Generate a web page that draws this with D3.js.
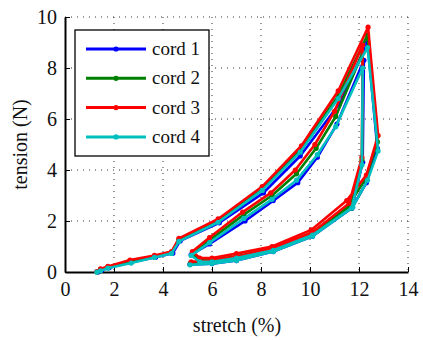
<style>
body { margin: 0; background: #fff; }
.grid line { stroke: #333; stroke-width: 1; stroke-dasharray: 1,5; }
.axis path, .axis line { stroke: #000; }
text { font-family: "Liberation Serif", "Times New Roman", "DejaVu Serif", serif !important; fill: #111; }
.axis text { font-size: 20px; }
.label { font-size: 20px; }
.legend text { font-size: 19px; }
</style>
<body>
<svg id="svg"></svg>
<script src="https://cdnjs.cloudflare.com/ajax/libs/d3/7.8.5/d3.min.js"></script>
<script>
// stretch (%) and tension (N) for each cord
// load -> unload -> reload -> unload
var cord1X = [1.35,1.5,1.8,2.7,3.7,4.4,4.7,6.3,8.1,9.6,11.2,12.35, 12.75,12.3,11.7,10.1,8.5,7.0,6.0,5.5,5.15, 5.9,7.35,8.5,9.5,10.3,11.1,12.2, 12.15,11.7,10.1,8.5,7.0,6.0,5.1]
var cord1Y = [0.0,0.08,0.17,0.38,0.58,0.74,1.22,1.93,3.1,4.55,6.6,9.0, 4.85,3.5,2.5,1.45,0.85,0.55,0.42,0.42,0.68, 1.1,2.0,2.8,3.5,4.5,5.8,8.3, 4.3,2.5,1.4,0.8,0.45,0.33,0.3]

var cord2X = [1.3,1.45,1.75,2.65,3.65,4.35,4.65,6.25,8.05,9.6,11.15,12.35, 12.75,12.3,11.6,10.1,8.5,7.0,6.0,5.5,5.2, 5.9,7.3,8.45,9.45,10.25,11.05,12.15, 12.12,11.65,10.1,8.5,7.0,6.0,5.12]
var cord2Y = [0.0,0.1,0.2,0.42,0.62,0.78,1.28,2.0,3.25,4.8,6.9,9.3, 5.1,3.7,2.65,1.55,0.92,0.62,0.48,0.48,0.72, 1.25,2.25,3.0,3.85,4.85,6.1,8.6, 4.4,2.6,1.5,0.88,0.55,0.42,0.35]

var cord3X = [1.3,1.45,1.75,2.65,3.65,4.35,4.65,6.25,8.05,9.65,11.15,12.37, 12.78,12.3,11.5,10.05,8.45,7.0,6.0,5.5,5.2, 5.9,7.25,8.4,9.4,10.2,11.0,12.15, 12.12,11.6,10.1,8.45,7.0,6.0,5.15]
var cord3Y = [0.02,0.12,0.22,0.47,0.65,0.8,1.32,2.08,3.35,4.95,7.1,9.6, 5.35,3.8,2.8,1.65,1.0,0.72,0.55,0.55,0.8, 1.35,2.35,3.1,4.0,5.0,6.3,8.9, 4.5,2.7,1.55,0.9,0.6,0.45,0.4]

var cord4X = [1.3,1.45,1.75,2.7,3.65,4.35,4.65,6.25,8.05,9.6,11.15,12.35, 12.78,12.35,11.75,10.1,8.5,7.0,6.0,5.5,5.15, 5.9,7.3,8.45,9.45,10.3,11.05,12.15, 12.12,11.7,10.1,8.5,7.0,6.0,5.1]
var cord4Y = [0.0,0.05,0.15,0.35,0.57,0.73,1.2,1.95,3.2,4.7,6.8,8.8, 4.75,3.6,2.55,1.45,0.85,0.55,0.4,0.4,0.65, 1.15,2.1,2.85,3.6,4.6,5.7,8.0, 4.2,2.5,1.4,0.8,0.45,0.33,0.28]

var names = ["cord 1","cord 2","cord 3","cord 4"]
var colors = ["#0000ff","#008000","#ff0000","#00bfbf"]
var xTicks = [0,2,4,6,8,10,12,14]
var yTicks = [0,2,4,6,8,10]

var series = [[cord1X,cord1Y],[cord2X,cord2Y],[cord3X,cord3Y],[cord4X,cord4Y]].map(function(s){
    return s[0].map(function(x,i){ return {x:x, y:s[1][i]} })
})

var serif = '"Liberation Serif", "Times New Roman", "DejaVu Serif", serif'
var margin = {top: 17, right: 15, bottom: 68, left: 65}
var W = 423, H = 340
var width = W - margin.left - margin.right,
    height = H - margin.top - margin.bottom

var xScale = d3.scaleLinear().domain([0,14]).range([0,width])
var yScale = d3.scaleLinear().domain([0,10]).range([height,0])

var svg = d3.select("svg").attr("width",W).attr("height",H)
var chart = svg.append("g")
    .attr("transform","translate(" + margin.left + "," + margin.top + ")")

// dotted grid (also stands in for the top and right edges)
var grid = chart.append("g").attr("class","grid")
grid.selectAll(".gx").data(xTicks.slice(1)).enter().append("line")
    .attr("x1",function(d){return xScale(d)}).attr("x2",function(d){return xScale(d)})
    .attr("y1",0).attr("y2",height)
grid.selectAll(".gy").data(yTicks.slice(1)).enter().append("line")
    .attr("y1",function(d){return yScale(d)}).attr("y2",function(d){return yScale(d)})
    .attr("x1",0).attr("x2",width)

var xAxis = d3.axisBottom(xScale).tickValues(xTicks).tickSizeInner(-5).tickSizeOuter(0).tickPadding(10)
var yAxis = d3.axisLeft(yScale).tickValues(yTicks).tickSizeInner(-5).tickSizeOuter(0).tickPadding(8)

var gx = chart.append("g").attr("class","x axis")
    .attr("transform","translate(0," + height + ")")
    .call(xAxis)
    .attr("font-family", serif).attr("font-size", 20)
gx.select("path").attr("stroke-width",2)
var gy = chart.append("g").attr("class","y axis")
    .call(yAxis)
    .attr("font-family", serif).attr("font-size", 20)
gy.select("path").attr("stroke-width",2)
svg.selectAll(".axis text").style("font-family", serif)

var line = d3.line()
    .x(function(d){ return xScale(d.x) })
    .y(function(d){ return yScale(d.y) })

series.forEach(function(data,k){
    chart.append("path")
        .attr("d", line(data))
        .attr("fill","none")
        .attr("stroke",colors[k])
        .attr("stroke-width",2.6)
        .attr("stroke-linejoin","round")
    chart.selectAll(".dot" + k).data(data).enter().append("circle")
        .attr("cx",function(d){ return xScale(d.x) })
        .attr("cy",function(d){ return yScale(d.y) })
        .attr("r",2.6)
        .attr("fill",colors[k])
})

// legend
var lg = svg.append("g").attr("class","legend").attr("transform","translate(75,30)")
lg.append("rect").attr("width",134).attr("height",126)
    .attr("fill","#fff").attr("stroke","#000").attr("stroke-width",1.3)
names.forEach(function(n,i){
    var y = 19 + i*29.3
    lg.append("line").attr("x1",11).attr("x2",71).attr("y1",y).attr("y2",y)
        .attr("stroke",colors[i]).attr("stroke-width",3)
    lg.append("circle").attr("cx",41).attr("cy",y).attr("r",2.6).attr("fill",colors[i])
    lg.append("text").attr("x",77).attr("y",y+6).style("font-family",serif).text(n)
})

svg.append("text").attr("class","label")
    .attr("transform","translate(27," + (margin.top + height/2) + ") rotate(-90)")
    .attr("text-anchor","middle")
    .style("font-family",serif)
    .text("tension (N)")
svg.append("text").attr("class","label")
    .attr("x",237).attr("y",332)
    .attr("text-anchor","middle")
    .style("font-family",serif)
    .text("stretch (%)")
</script>
</body>
